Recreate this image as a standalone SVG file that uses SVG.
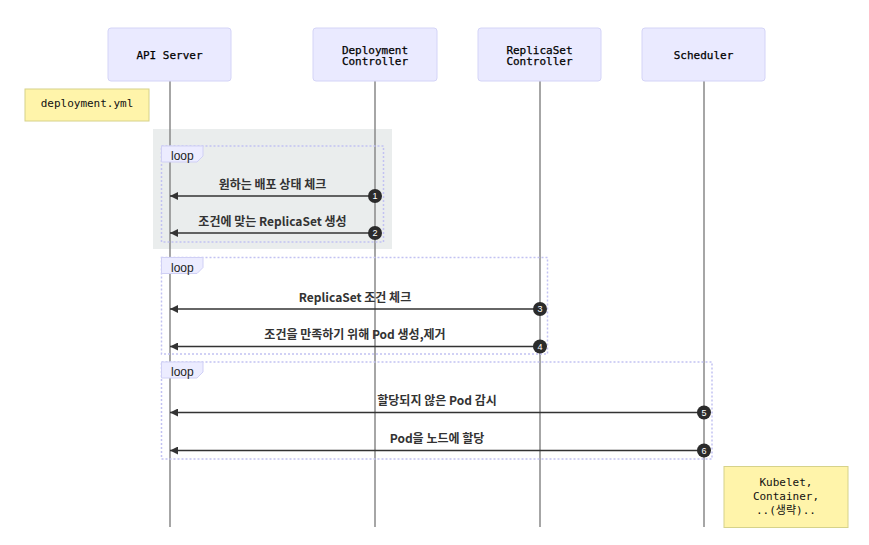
<svg xmlns="http://www.w3.org/2000/svg" width="869" height="545" viewBox="0 0 869 545">
<style>
.actor{fill:#eaeaff;stroke:#d4d4f7;stroke-width:1}
.atext{font-family:"DejaVu Sans Mono","Liberation Mono",monospace;font-size:11px;fill:#000;stroke:#000;stroke-width:0.25;text-anchor:middle;dominant-baseline:central}
.life{stroke:#888;stroke-width:1.5}
.note{fill:#fff4aa;stroke:#d6d28a;stroke-width:1}
.ntext{font-family:"DejaVu Sans Mono","Noto Sans CJK KR",monospace;font-size:11px;fill:#111;text-anchor:middle;dominant-baseline:central}
.loopbox{fill:none;stroke:#c2c2f2;stroke-width:1.5;stroke-dasharray:2 2}
.looplab{fill:#ececff;stroke:#d0d0f5;stroke-width:1}
.looptext{font-family:"Liberation Sans","Noto Sans CJK KR",sans-serif;font-size:12px;fill:#222;dominant-baseline:central}
.msg{stroke:#333;stroke-width:1.5;fill:none;marker-end:url(#arrow)}
.mtext{font-family:"Noto Sans CJK KR","Liberation Sans",sans-serif;font-size:12px;font-weight:bold;fill:#333;text-anchor:middle;dominant-baseline:central}
.seq{fill:#2b2b2b}
.seqt{font-family:"Liberation Sans",sans-serif;font-size:9px;fill:#fff;text-anchor:middle;dominant-baseline:central}
</style>
<defs>
<marker id="arrow" viewBox="0 0 10 10" refX="10" refY="5" markerWidth="8" markerHeight="8" markerUnits="userSpaceOnUse" orient="auto">
<path d="M0,0 L10,5 L0,10 z" fill="#333"/>
</marker>
</defs>
<rect x="0" y="0" width="869" height="545" fill="#fff"/>
<rect x="153" y="129" width="239" height="120" fill="#eaeded"/>
<g id="lifelines">
<line class="life" x1="170" y1="81" x2="170" y2="527"/>
<line class="life" x1="375" y1="81" x2="375" y2="527"/>
<line class="life" x1="540" y1="81" x2="540" y2="527"/>
<line class="life" x1="704" y1="81" x2="704" y2="527"/>
</g>
<g id="actor-api"><rect class="actor" x="108" y="28" width="123" height="53" rx="3"/><text class="atext" x="169.5" y="55.5">API Server</text></g>
<g id="actor-deploy"><rect class="actor" x="313" y="28" width="124" height="53" rx="3"/><text class="atext" x="375" y="50">Deployment</text><text class="atext" x="375" y="61.5">Controller</text></g>
<g id="actor-rs"><rect class="actor" x="478" y="28" width="123" height="53" rx="3"/><text class="atext" x="539.5" y="50">ReplicaSet</text><text class="atext" x="539.5" y="61.5">Controller</text></g>
<g id="actor-sched"><rect class="actor" x="642" y="28" width="123" height="53" rx="3"/><text class="atext" x="703.5" y="55.5">Scheduler</text></g>
<g id="note-deploy"><rect class="note" x="25" y="89" width="124" height="32"/><text class="ntext" x="87" y="103.5">deployment.yml</text></g>
<g id="loop1"><rect class="loopbox" x="161.5" y="146" width="222" height="96"/><path class="looplab" d="M161.5,146 H203 V156 L197,162 H161.5 Z"/><text class="looptext" x="171" y="156">loop</text></g>
<g id="loop2"><rect class="loopbox" x="161.5" y="257.5" width="386" height="96.5"/><path class="looplab" d="M161.5,257.5 H203 V267.5 L197,273.5 H161.5 Z"/><text class="looptext" x="171" y="267.5">loop</text></g>
<g id="loop3"><rect class="loopbox" x="161.5" y="362" width="550.5" height="97"/><path class="looplab" d="M161.5,362 H203 V372 L197,378 H161.5 Z"/><text class="looptext" x="171" y="372">loop</text></g>
<g id="connectors">
<line class="msg" x1="375" y1="196" x2="170" y2="196"/>
<line class="msg" x1="375" y1="233" x2="170" y2="233"/>
<line class="msg" x1="540" y1="309" x2="170" y2="309"/>
<line class="msg" x1="540" y1="346.5" x2="170" y2="346.5"/>
<line class="msg" x1="704" y1="412.5" x2="170" y2="412.5"/>
<line class="msg" x1="704" y1="450.5" x2="170" y2="450.5"/>
<text class="mtext" x="272.5" y="183">원하는 배포 상태 체크</text>
<text class="mtext" x="272.5" y="220.5">조건에 맞는 ReplicaSet 생성</text>
<text class="mtext" x="355" y="296">ReplicaSet 조건 체크</text>
<text class="mtext" x="355" y="333.5">조건을 만족하기 위해 Pod 생성,제거</text>
<text class="mtext" x="437" y="399.5">할당되지 않은 Pod 감시</text>
<text class="mtext" x="437" y="437.5">Pod을 노드에 할당</text>
<circle class="seq" cx="375" cy="196" r="7"/><text class="seqt" x="375" y="196">1</text>
<circle class="seq" cx="375" cy="233" r="7"/><text class="seqt" x="375" y="233">2</text>
<circle class="seq" cx="540" cy="309" r="7"/><text class="seqt" x="540" y="309">3</text>
<circle class="seq" cx="540" cy="346.5" r="7"/><text class="seqt" x="540" y="346.5">4</text>
<circle class="seq" cx="704" cy="412.5" r="7"/><text class="seqt" x="704" y="412.5">5</text>
<circle class="seq" cx="704" cy="450.5" r="7"/><text class="seqt" x="704" y="450.5">6</text>
</g>
<g id="note-kubelet"><rect class="note" x="724" y="466.5" width="124" height="61"/><text class="ntext" x="786" y="482">Kubelet,</text><text class="ntext" x="786" y="496">Container,</text><text class="ntext" x="786" y="510">..(생략)..</text></g>
</svg>
